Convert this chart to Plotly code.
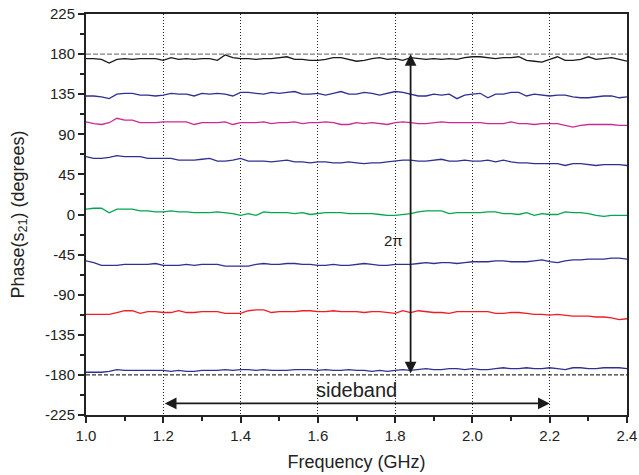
import plotly.graph_objects as go

# frequency points (GHz), 1.00 .. 2.40 in 0.02 steps
freq = [round(1.0 + 0.02 * i, 2) for i in range(71)]

phase_black = [175, 175, 174, 170, 174, 175, 174, 175, 175, 175,
               173, 176, 174, 175, 174, 175, 175, 173, 179, 176,
               175, 175, 174, 175, 175, 176, 177, 174, 174, 173,
               173, 174, 176, 176, 174, 172, 173, 175, 176, 174,
               175, 173, 176, 175, 174, 175, 174, 175, 174, 176,
               177, 177, 176, 175, 176, 176, 177, 173, 172, 171,
               174, 177, 173, 173, 174, 177, 174, 175, 176, 174,
               172]
phase_blue1 = [133, 133, 132, 130, 135, 136, 136, 134, 134, 133,
               134, 136, 135, 135, 133, 136, 135, 136, 135, 133,
               137, 137, 136, 135, 137, 136, 137, 138, 135, 135,
               136, 134, 136, 138, 135, 135, 137, 136, 134, 136,
               138, 137, 135, 133, 133, 135, 134, 135, 130, 134,
               135, 136, 131, 135, 135, 137, 137, 133, 135, 134,
               133, 134, 134, 132, 131, 131, 132, 133, 133, 131,
               132]
phase_magenta = [104, 102, 101, 103, 108, 106, 106, 103, 103, 103,
                 104, 104, 104, 104, 101, 103, 103, 103, 104, 101,
                 103, 103, 103, 104, 102, 103, 103, 104, 102, 103,
                 103, 104, 103, 101, 101, 103, 102, 103, 102, 101,
                 103, 104, 103, 102, 102, 103, 104, 103, 103, 103,
                 103, 103, 102, 102, 102, 104, 102, 102, 101, 102,
                 102, 102, 100, 98, 100, 101, 101, 101, 101, 100,
                 100]
phase_blue2 = [65, 63, 63, 64, 66, 65, 65, 65, 63, 63,
               63, 63, 61, 61, 61, 62, 63, 60, 60, 61,
               63, 60, 60, 60, 59, 60, 61, 59, 59, 58,
               59, 59, 58, 58, 59, 58, 57, 58, 58, 59,
               60, 61, 61, 60, 60, 61, 62, 60, 60, 61,
               60, 60, 61, 59, 61, 59, 58, 58, 57, 57,
               57, 57, 55, 57, 57, 56, 55, 56, 56, 56,
               55]
phase_green = [6, 7, 7, 2, 6, 6, 6, 4, 4, 3,
               3, 4, 3, 3, 2, 2, 2, 3, 2, 1,
               -1, 1, -1, 3, 2, 2, 2, 1, 2, 0,
               1, 2, 2, 2, 1, 1, 1, 1, 0, -1,
               -1, 0, 1, 3, 4, 4, 4, 1, 2, 2,
               2, 2, 3, 3, 1, 1, 0, 2, -1, 1,
               0, 0, 3, 2, 2, 1, -1, -2, -1, -1,
               -1]
phase_blue3 = [-52, -54, -57, -57, -57, -56, -56, -56, -56, -55,
               -57, -57, -57, -56, -57, -56, -56, -56, -58, -58,
               -58, -58, -56, -55, -56, -56, -55, -55, -56, -56,
               -57, -57, -56, -57, -57, -56, -55, -56, -57, -57,
               -56, -56, -56, -55, -54, -55, -54, -54, -55, -54,
               -53, -53, -53, -52, -52, -53, -53, -53, -52, -51,
               -53, -54, -52, -51, -51, -50, -50, -50, -49, -49,
               -50]
phase_red = [-112, -112, -112, -112, -110, -108, -108, -111, -109, -109,
             -110, -110, -108, -110, -110, -109, -109, -109, -111, -111,
             -111, -108, -107, -107, -110, -109, -109, -109, -108, -108,
             -109, -109, -108, -109, -109, -109, -110, -109, -109, -110,
             -111, -108, -110, -108, -109, -110, -110, -111, -109, -109,
             -109, -109, -109, -111, -111, -110, -110, -111, -112, -112,
             -113, -112, -113, -114, -114, -114, -115, -115, -116, -118,
             -117]
phase_blue4 = [-177, -177, -177, -176, -174, -175, -175, -175, -175, -175,
               -175, -176, -175, -176, -176, -175, -175, -175, -174, -175,
               -174, -174, -175, -174, -175, -175, -175, -174, -174, -174,
               -175, -174, -175, -175, -174, -175, -175, -176, -175, -176,
               -175, -174, -175, -174, -173, -174, -174, -173, -173, -174,
               -173, -174, -174, -173, -172, -173, -173, -172, -173, -173,
               -172, -173, -174, -172, -172, -173, -173, -172, -172, -172,
               -173]

series = [phase_black, phase_blue1, phase_magenta, phase_blue2,
          phase_green, phase_blue3, phase_red, phase_blue4]
colors = ['#1a1a1a', '#2e3192', '#cc2a92', '#2e3192',
          '#00a651', '#2e3192', '#ee1c25', '#2e3192']

y_ticks = [225, 180, 135, 90, 45, 0, -45, -90, -135, -180, -225]
y_ticktext = [str(v) for v in y_ticks]   # plain hyphen, like the original

ref_levels = [180, -180]      # dashed lines at +/- pi
band = [1.2, 2.2]             # sideband
arrow_x = 1.84

fig = go.Figure()
for ys, c in zip(series, colors):
    fig.add_trace(go.Scatter(x=freq, y=ys, mode='lines',
                             line=dict(color=c, width=1.3),
                             showlegend=False))

# dashed reference lines
fig.add_shape(type='line', x0=1.0, x1=2.4, y0=ref_levels[0], y1=ref_levels[0],
              xref='x', yref='y', line=dict(color='#808080', width=1.2, dash='5px,2px'))
fig.add_shape(type='line', x0=1.0, x1=2.4, y0=ref_levels[1], y1=ref_levels[1],
              xref='x', yref='y', line=dict(color='black', width=1, dash='4px,2px'))

# 2pi arrow
fig.add_annotation(x=arrow_x, y=ref_levels[0], ax=arrow_x, ay=ref_levels[1],
                   xref='x', yref='y', axref='x', ayref='y', text='',
                   showarrow=True, arrowhead=2, startarrowhead=2,
                   arrowside='end+start', arrowsize=1.3, arrowwidth=1.8,
                   arrowcolor='#1a1a1a')
fig.add_annotation(x=1.795, y=-29, text='2π', showarrow=False,
                   font=dict(size=15, color='#222222'))

# sideband arrow
fig.add_annotation(x=band[1], y=-212, ax=band[0], ay=-212,
                   xref='x', yref='y', axref='x', ayref='y', text='',
                   showarrow=True, arrowhead=2, startarrowhead=2,
                   arrowside='end+start', arrowsize=1.3, arrowwidth=1.8,
                   arrowcolor='#1a1a1a')
fig.add_annotation(x=1.70, y=-197, text='sideband', showarrow=False,
                   font=dict(size=20, color='#222222'))

fig.update_xaxes(range=[1.0, 2.4], tickvals=[1.0, 1.2, 1.4, 1.6, 1.8, 2.0, 2.2, 2.4],
                 tickformat='.1f', ticks='outside', ticklen=6, tickwidth=1.5,
                 tickcolor='#222222', automargin=False, ticklabeloverflow='allow',
                 minor=dict(dtick=0.1, tick0=1.0, ticks='outside', ticklen=4,
                            tickwidth=1.5, tickcolor='#222222', showgrid=False),
                 showline=True, linecolor='#222222', linewidth=2, mirror=True,
                 showgrid=True, gridcolor='#222222', gridwidth=1, griddash='1px,2px',
                 zeroline=False,
                 title=dict(text='Frequency (GHz)', standoff=12))
fig.update_yaxes(range=[-225, 225], tickvals=y_ticks, ticktext=y_ticktext,
                 ticks='outside', ticklen=6, tickwidth=1.5, tickcolor='#222222',
                 automargin=False, ticklabeloverflow='allow',
                 minor=dict(dtick=22.5, tick0=0, ticks='outside', ticklen=4,
                            tickwidth=1.5, tickcolor='#222222', showgrid=False),
                 showline=True, linecolor='#222222', linewidth=2, mirror=True,
                 showgrid=False, zeroline=False,
                 title=dict(text='Phase(s<sub>21</sub>) (degrees)', standoff=16))

fig.update_layout(width=639, height=475,
                  margin=dict(l=86, r=12, t=14, b=60),
                  plot_bgcolor='white', paper_bgcolor='white',
                  font=dict(family='Liberation Sans, Arial', size=15, color='#222222'))

# drop the default 8px page margin so the figure fills the window exactly
fig.write_html('out.html', config={'displayModeBar': False},
               post_script="document.body.style.margin='0';")
